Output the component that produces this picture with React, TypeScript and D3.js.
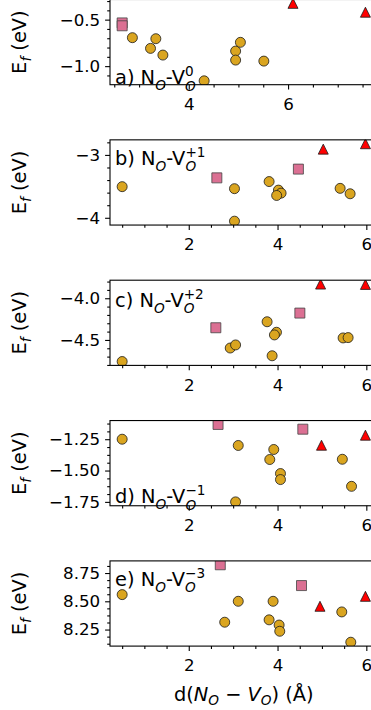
import React, { useEffect, useRef } from 'react';
import * as d3 from 'd3';

type Pt = [number, number];

// ---------------- data ----------------
const panelLetters = ['a)', 'b)', 'c)', 'd)', 'e)'];
const chargeStates = ['0', '+1', '+2', '−1', '−3'];

const circlesA: Pt[] = [[2.865, -0.694], [3.337, -0.705], [3.23, -0.809], [3.479, -0.881], [4.31, -1.158], [4.944, -0.838], [4.944, -0.935], [5.04, -0.744], [5.512, -0.946]];
const squaresA: Pt[] = [[2.659, -0.535], [2.659, -0.566]];
const trianglesA: Pt[] = [[6.099, -0.325], [7.558, -0.42]];

const circlesB: Pt[] = [[0.5, -3.505], [3.03, -3.537], [3.03, -4.054], [3.81, -3.424], [4.02, -3.56], [4.08, -3.608], [3.98, -3.645], [5.41, -3.532], [5.635, -3.618]];
const squaresB: Pt[] = [[2.633, -3.365], [4.47, -3.226]];
const trianglesB: Pt[] = [[5.03, -2.908], [5.98, -2.822]];

const circlesC: Pt[] = [[0.5, -4.759], [2.934, -4.597], [3.055, -4.56], [3.765, -4.282], [3.878, -4.69], [3.976, -4.408], [3.93, -4.44], [5.477, -4.476], [5.59, -4.472]];
const squaresC: Pt[] = [[2.61, -4.354], [4.503, -4.178]];
const trianglesC: Pt[] = [[4.97, -3.83], [5.98, -3.834]];

const circlesD: Pt[] = [[0.5, -1.25], [3.115, -1.3], [3.055, -1.75], [3.825, -1.412], [3.915, -1.332], [4.066, -1.524], [4.066, -1.572], [5.46, -1.41], [5.667, -1.626]];
const squaresD: Pt[] = [[2.66, -1.132], [4.57, -1.17]];
const trianglesD: Pt[] = [[4.99, -1.298], [5.98, -1.218]];

const circlesE: Pt[] = [[0.5, 8.559], [3.115, 8.5], [2.81, 8.315], [3.81, 8.336], [3.9, 8.5], [4.036, 8.29], [4.05, 8.235], [5.447, 8.406], [5.65, 8.138]];
const squaresE: Pt[] = [[2.71, 8.823], [4.54, 8.639]];
const trianglesE: Pt[] = [[4.956, 8.456], [5.98, 8.544]];

const xTicksA = [4, 6];
const xTicksBE = [2, 4, 6];
const yTicksA = [-1.0, -0.5];
const yTicksB = [-4, -3];
const yTicksC = [-4.5, -4.0];
const yTicksD = [-1.75, -1.5, -1.25];
const yTicksE = [8.25, 8.5, 8.75];
const yTickDecimals = [1, 0, 1, 2, 2];
const yMinorSteps = [0.1, 0.2, 0.1, 0.0625, 0.0625];
const xMinorStep = 0.5;

const allCircles = [circlesA, circlesB, circlesC, circlesD, circlesE];
const allSquares = [squaresA, squaresB, squaresC, squaresD, squaresE];
const allTriangles = [trianglesA, trianglesB, trianglesC, trianglesD, trianglesE];
const allXTicks = [xTicksA, xTicksBE, xTicksBE, xTicksBE, xTicksBE];
const allYTicks = [yTicksA, yTicksB, yTicksC, yTicksD, yTicksE];

// ---------------- layout / style ----------------
const W = 371;
const H = 710;
const AX_L = 110;
const AX_R = 377.6;
const TOP0 = -0.5;
const PITCH = 140.35;
const AX_H = 85.2;
const FONT = '"DejaVu Sans", sans-serif';
const TICK_FS = 16.7;
const LABEL_FS = 19.4;
const SCRIPT_FS = 13.6;
const labelAnchors: { from: 'top' | 'bottom'; off: number }[] = [
  { from: 'bottom', off: -0.6 },
  { from: 'top', off: 24.7 },
  { from: 'top', off: 26.5 },
  { from: 'bottom', off: -2.6 },
  { from: 'top', off: 24.9 },
];
const COLORS = { circle: '#DAA520', square: '#DB7093', triangle: '#FF0000', edge: '#1a1a1a' };

const triangleType = {
  draw(ctx: any, size: number) {
    const r = Math.sqrt(size) / 2;
    ctx.moveTo(0, -r);
    ctx.lineTo(r, r);
    ctx.lineTo(-r, r);
    ctx.closePath();
  },
};

function padded(vals: number[]): [number, number] {
  const [a, b] = d3.extent(vals) as [number, number];
  const m = (b - a) * 0.05;
  return [a - m, b + m];
}

function minorTicks(dom: [number, number], anchor: number, step: number, majors: number[]) {
  const out: number[] = [];
  const k0 = Math.ceil((dom[0] - anchor) / step - 1e-9);
  const k1 = Math.floor((dom[1] - anchor) / step + 1e-9);
  for (let k = k0; k <= k1; k++) {
    const v = anchor + k * step;
    if (!majors.some((m) => Math.abs(m - v) < 1e-9)) out.push(v);
  }
  return out;
}

function styleAxis(g: any) {
  g.select('.domain').remove();
  g.attr('font-family', FONT).attr('font-size', TICK_FS);
  g.selectAll('line').attr('stroke', '#000').attr('stroke-width', 1.1);
  g.selectAll('text').attr('fill', '#000');
}

function drawPanel(svg: any, i: number) {
  const top = TOP0 + i * PITCH;
  const bottom = top + AX_H;
  const pts = [...allCircles[i], ...allSquares[i], ...allTriangles[i]];
  const xDom = padded(pts.map((d) => d[0]));
  const yDom = padded(pts.map((d) => d[1]));
  const x = d3.scaleLinear().domain(xDom).range([AX_L, AX_R]);
  const y = d3.scaleLinear().domain(yDom).range([bottom, top]);

  const g = svg.append('g');
  const clipId = `clip-${i}`;
  g.append('clipPath').attr('id', clipId).append('rect')
    .attr('x', AX_L).attr('y', top).attr('width', AX_R - AX_L).attr('height', AX_H);

  const marks = g.append('g').attr('clip-path', `url(#${clipId})`);
  marks.selectAll('circle').data(allCircles[i]).join('circle')
    .attr('cx', (d: Pt) => x(d[0])).attr('cy', (d: Pt) => y(d[1])).attr('r', 5)
    .attr('fill', COLORS.circle).attr('stroke', COLORS.edge).attr('stroke-width', 0.8);
  marks.selectAll('path.sq').data(allSquares[i]).join('path').attr('class', 'sq')
    .attr('d', d3.symbol(d3.symbolSquare, 100)())
    .attr('transform', (d: Pt) => `translate(${x(d[0])},${y(d[1])})`)
    .attr('fill', COLORS.square).attr('stroke', '#444').attr('stroke-width', 0.8);
  marks.selectAll('path.tri').data(allTriangles[i]).join('path').attr('class', 'tri')
    .attr('d', d3.symbol(triangleType as any, 100)())
    .attr('transform', (d: Pt) => `translate(${x(d[0])},${y(d[1])})`)
    .attr('fill', COLORS.triangle).attr('stroke', COLORS.edge).attr('stroke-width', 0.8);

  // axes
  const yMaj = allYTicks[i];
  const xMaj = allXTicks[i];
  const fmt = d3.format(`.${yTickDecimals[i]}f`);
  const yAx = g.append('g').attr('transform', `translate(${AX_L},0)`)
    .call(d3.axisLeft(y).tickValues(yMaj).tickSize(4.9).tickPadding(4.9).tickFormat((v: any) => fmt(v)));
  styleAxis(yAx);
  const yMin = g.append('g').attr('transform', `translate(${AX_L},0)`)
    .call(d3.axisLeft(y).tickValues(minorTicks(yDom, yMaj[0], yMinorSteps[i], yMaj)).tickSize(2.8).tickFormat(() => ''));
  styleAxis(yMin);
  const xAx = g.append('g').attr('transform', `translate(0,${bottom})`)
    .call(d3.axisBottom(x).tickValues(xMaj).tickSize(4.9).tickPadding(8.6).tickFormat(d3.format('d') as any));
  styleAxis(xAx);
  const xMin = g.append('g').attr('transform', `translate(0,${bottom})`)
    .call(d3.axisBottom(x).tickValues(minorTicks(xDom, xMaj[0], xMinorStep, xMaj)).tickSize(2.8).tickFormat(() => ''));
  styleAxis(xMin);

  // spines
  g.append('rect').attr('x', AX_L).attr('y', top).attr('width', AX_R - AX_L).attr('height', AX_H)
    .attr('fill', 'none').attr('stroke', '#000').attr('stroke-width', 1.1);

  // y label
  const yl = g.append('text')
    .attr('transform', `translate(26,${top + AX_H / 2}) rotate(-90)`)
    .attr('text-anchor', 'middle').attr('font-family', FONT).attr('font-size', LABEL_FS)
    .style('white-space', 'pre');
  yl.append('tspan').text('E');
  yl.append('tspan').attr('font-size', SCRIPT_FS).attr('font-style', 'italic').attr('dy', 4.5).text('f');
  yl.append('tspan').attr('dy', -4.5).text(' (eV)');

  // panel label
  const la = labelAnchors[i];
  const by = la.from === 'top' ? top + la.off : bottom + la.off;
  const t = g.append('text').attr('x', 115).attr('y', by)
    .attr('font-family', FONT).attr('font-size', LABEL_FS).style('white-space', 'pre');
  t.append('tspan').text(`${panelLetters[i]} N`);
  t.append('tspan').attr('font-size', SCRIPT_FS).attr('font-style', 'italic').attr('dy', 6).text('O');
  t.append('tspan').attr('dy', -6).text('-V');
  const sup = t.append('tspan').attr('font-size', SCRIPT_FS).attr('dy', -8).text(chargeStates[i]);
  const sw = (sup.node() as SVGTextContentElement).getComputedTextLength();
  t.append('tspan').attr('font-size', SCRIPT_FS).attr('font-style', 'italic')
    .attr('dx', -sw).attr('dy', 8 + 6.5).text('O');

  return { x, bottom };
}

export default function App() {
  const ref = useRef<SVGSVGElement>(null);
  useEffect(() => {
    const svg = d3.select(ref.current);
    svg.selectAll('*').remove();
    let last: any = null;
    for (let i = 0; i < 5; i++) last = drawPanel(svg, i);
    const xl = svg.append('text')
      .attr('x', (AX_L + AX_R) / 2).attr('y', 700.5)
      .attr('text-anchor', 'middle').attr('font-family', FONT).attr('font-size', LABEL_FS)
      .style('white-space', 'pre');
    xl.append('tspan').text('d(');
    xl.append('tspan').attr('font-style', 'italic').text('N');
    xl.append('tspan').attr('font-size', SCRIPT_FS).attr('font-style', 'italic').attr('dy', 4.5).text('O');
    xl.append('tspan').attr('dy', -4.5).text(' − ');
    xl.append('tspan').attr('font-style', 'italic').text('V');
    xl.append('tspan').attr('font-size', SCRIPT_FS).attr('font-style', 'italic').attr('dy', 4.5).text('O');
    xl.append('tspan').attr('dy', -4.5).text(') (Å)');
  }, []);
  return (
    <svg
      ref={ref}
      width={W}
      height={H}
      style={{ position: 'absolute', left: 0, top: 0, background: '#fff', overflow: 'hidden' }}
    />
  );
}
